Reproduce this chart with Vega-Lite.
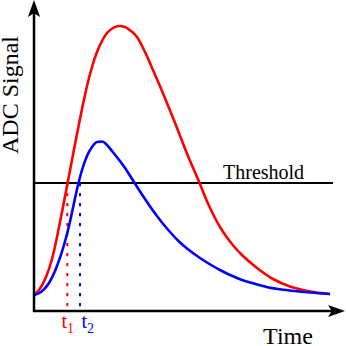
{
  "$schema": "https://vega.github.io/schema/vega-lite/v6.json",
  "width": 346,
  "height": 346,
  "padding": 0,
  "autosize": {"type": "none"},
  "config": {"view": {"stroke": null}},
  "datasets": {
    "curves": [
      {"series": "S1", "t": 0, "s": 16}, {"series": "S1", "t": 5, "s": 21}, {"series": "S1", "t": 12, "s": 34},
      {"series": "S1", "t": 18, "s": 52}, {"series": "S1", "t": 23, "s": 74}, {"series": "S1", "t": 28, "s": 99},
      {"series": "S1", "t": 33, "s": 125}, {"series": "S1", "t": 38, "s": 151}, {"series": "S1", "t": 43, "s": 177},
      {"series": "S1", "t": 48, "s": 202}, {"series": "S1", "t": 53, "s": 225}, {"series": "S1", "t": 58, "s": 244},
      {"series": "S1", "t": 63, "s": 259}, {"series": "S1", "t": 68, "s": 270}, {"series": "S1", "t": 73, "s": 278},
      {"series": "S1", "t": 79, "s": 283}, {"series": "S1", "t": 85, "s": 285}, {"series": "S1", "t": 91, "s": 284},
      {"series": "S1", "t": 97, "s": 280}, {"series": "S1", "t": 103, "s": 274}, {"series": "S1", "t": 111, "s": 259},
      {"series": "S1", "t": 119, "s": 241}, {"series": "S1", "t": 133, "s": 208}, {"series": "S1", "t": 143, "s": 183},
      {"series": "S1", "t": 154, "s": 155}, {"series": "S1", "t": 166, "s": 127}, {"series": "S1", "t": 172, "s": 112},
      {"series": "S1", "t": 179, "s": 97}, {"series": "S1", "t": 186, "s": 84}, {"series": "S1", "t": 193, "s": 73.5},
      {"series": "S1", "t": 200, "s": 64.5}, {"series": "S1", "t": 208, "s": 56}, {"series": "S1", "t": 223, "s": 43},
      {"series": "S1", "t": 239, "s": 32}, {"series": "S1", "t": 256, "s": 24.5}, {"series": "S1", "t": 276, "s": 19.5},
      {"series": "S1", "t": 296, "s": 17},
      {"series": "S2", "t": 0, "s": 16}, {"series": "S2", "t": 7, "s": 19}, {"series": "S2", "t": 15, "s": 28},
      {"series": "S2", "t": 23, "s": 45}, {"series": "S2", "t": 30, "s": 66}, {"series": "S2", "t": 35, "s": 85},
      {"series": "S2", "t": 40, "s": 108}, {"series": "S2", "t": 44, "s": 126}, {"series": "S2", "t": 48, "s": 141},
      {"series": "S2", "t": 53, "s": 155}, {"series": "S2", "t": 58, "s": 164}, {"series": "S2", "t": 63, "s": 169},
      {"series": "S2", "t": 68, "s": 169.5}, {"series": "S2", "t": 73, "s": 166}, {"series": "S2", "t": 78, "s": 160},
      {"series": "S2", "t": 84, "s": 152.5}, {"series": "S2", "t": 90, "s": 144.5}, {"series": "S2", "t": 100, "s": 129},
      {"series": "S2", "t": 110, "s": 113.5}, {"series": "S2", "t": 120, "s": 99}, {"series": "S2", "t": 128, "s": 88.5},
      {"series": "S2", "t": 136, "s": 79}, {"series": "S2", "t": 145, "s": 69.5}, {"series": "S2", "t": 153, "s": 62.5},
      {"series": "S2", "t": 161, "s": 56.5}, {"series": "S2", "t": 169, "s": 51}, {"series": "S2", "t": 178, "s": 45.5},
      {"series": "S2", "t": 186, "s": 41}, {"series": "S2", "t": 195, "s": 36.5}, {"series": "S2", "t": 203, "s": 33},
      {"series": "S2", "t": 211, "s": 30}, {"series": "S2", "t": 219, "s": 27.7}, {"series": "S2", "t": 228, "s": 25.3},
      {"series": "S2", "t": 236, "s": 23.3}, {"series": "S2", "t": 246, "s": 21.7}, {"series": "S2", "t": 260, "s": 20},
      {"series": "S2", "t": 276, "s": 18.5}, {"series": "S2", "t": 296, "s": 17}
    ],
    "axes": [
      {"t": 0, "s": -1, "te": 0, "se": 302},
      {"t": -1, "s": 0, "te": 300, "se": 0}
    ],
    "threshold": [{"t": 0, "s": 128, "te": 299, "se": 128, "label": "Threshold", "lt": 189, "ls": 132}],
    "markers": [
      {"series": "S1", "t": 33.3, "s": 128, "se": 0, "lt": 33, "ls": -17, "ss": -22, "name": "t", "sub": "1"},
      {"series": "S2", "t": 46, "s": 128, "se": 0, "lt": 53, "ls": -17, "ss": -22, "name": "t", "sub": "2"}
    ],
    "labels": [
      {"t": 254, "s": -33, "label": "Time", "kind": "x"},
      {"t": -16, "s": 216, "label": "ADC Signal", "kind": "y"}
    ],
    "arrowUp": [{"t": 0, "s": 302.5}],
    "arrowRight": [{"t": 302.5, "s": 0}]
  },
  "encoding": {
    "x": {"field": "t", "type": "quantitative", "scale": {"domain": [-34, 312], "nice": false, "zero": false}, "axis": null},
    "y": {"field": "s", "type": "quantitative", "scale": {"domain": [-35, 311], "nice": false, "zero": false}, "axis": null}
  },
  "layer": [
    {
      "data": {"name": "threshold"},
      "mark": {"type": "rule", "color": "#000000", "strokeWidth": 2},
      "encoding": {"x2": {"field": "te"}, "y2": {"field": "se"}}
    },
    {
      "data": {"name": "markers"},
      "mark": {"type": "rule", "strokeWidth": 2, "strokeDash": [3.3, 6.7]},
      "encoding": {
        "y2": {"field": "se"},
        "color": {"field": "series", "type": "nominal", "scale": {"domain": ["S1", "S2"], "range": ["#ff0000", "#0000ff"]}, "legend": null}
      }
    },
    {
      "data": {"name": "curves"},
      "mark": {"type": "line", "strokeWidth": 2.6, "interpolate": "monotone"},
      "encoding": {
        "color": {"field": "series", "type": "nominal", "scale": {"domain": ["S1", "S2"], "range": ["#ff0000", "#0000ff"]}, "legend": null}
      }
    },
    {
      "data": {"name": "axes"},
      "mark": {"type": "rule", "color": "#000000", "strokeWidth": 2.5},
      "encoding": {"x2": {"field": "te"}, "y2": {"field": "se"}}
    },
    {
      "data": {"name": "arrowUp"},
      "mark": {"type": "point", "filled": true, "color": "#000000", "opacity": 1, "size": 289, "shape": "M0,-1L0.72,1L0,0.55L-0.72,1Z"},
      "encoding": {}
    },
    {
      "data": {"name": "arrowRight"},
      "mark": {"type": "point", "filled": true, "color": "#000000", "opacity": 1, "size": 289, "shape": "M1,0L-1,0.72L-0.55,0L-1,-0.72Z"},
      "encoding": {}
    },
    {
      "data": {"name": "threshold"},
      "mark": {"type": "text", "align": "left", "baseline": "alphabetic", "font": "Liberation Serif", "fontSize": 20, "color": "#000000"},
      "encoding": {"x": {"field": "lt", "type": "quantitative"}, "y": {"field": "ls", "type": "quantitative"}, "text": {"field": "label"}}
    },
    {
      "data": {"name": "markers"},
      "mark": {"type": "text", "align": "right", "baseline": "alphabetic", "font": "Liberation Serif", "fontSize": 20},
      "encoding": {
        "x": {"field": "lt", "type": "quantitative"}, "y": {"field": "ls", "type": "quantitative"}, "text": {"field": "name"},
        "color": {"field": "series", "type": "nominal", "scale": {"domain": ["S1", "S2"], "range": ["#ff0000", "#0000ff"]}, "legend": null}
      }
    },
    {
      "data": {"name": "markers"},
      "mark": {"type": "text", "align": "left", "baseline": "alphabetic", "font": "Liberation Serif", "fontSize": 14},
      "encoding": {
        "x": {"field": "lt", "type": "quantitative"}, "y": {"field": "ss", "type": "quantitative"}, "text": {"field": "sub"},
        "color": {"field": "series", "type": "nominal", "scale": {"domain": ["S1", "S2"], "range": ["#ff0000", "#0000ff"]}, "legend": null}
      }
    },
    {
      "data": {"name": "labels"},
      "transform": [{"filter": "datum.kind == 'x'"}],
      "mark": {"type": "text", "align": "center", "baseline": "alphabetic", "font": "Liberation Serif", "fontSize": 24, "color": "#000000"},
      "encoding": {"text": {"field": "label"}}
    },
    {
      "data": {"name": "labels"},
      "transform": [{"filter": "datum.kind == 'y'"}],
      "mark": {"type": "text", "align": "center", "baseline": "alphabetic", "angle": 270, "font": "Liberation Serif", "fontSize": 24, "color": "#000000"},
      "encoding": {"text": {"field": "label"}}
    }
  ]
}
